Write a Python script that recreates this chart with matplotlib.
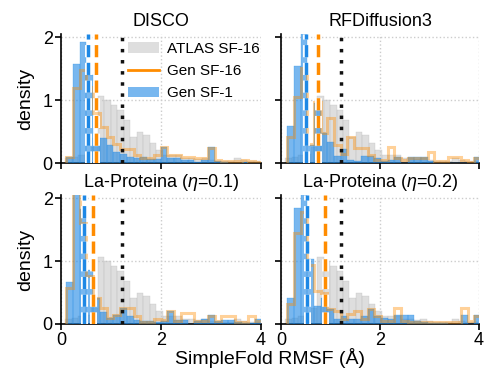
import matplotlib
matplotlib.use("Agg")
import matplotlib.pyplot as plt
import matplotlib.patheffects as pe
from matplotlib.patches import Patch
from matplotlib.lines import Line2D
import numpy as np

plt.rcParams['font.family'] = ['Liberation Sans', 'DejaVu Sans']
plt.rcParams['mathtext.fontset'] = 'custom'
plt.rcParams['mathtext.it'] = 'Liberation Sans:italic'
plt.rcParams['mathtext.rm'] = 'Liberation Sans'

titles = ["DISCO", "RFDiffusion3", "La-Proteina ($\\eta$=0.1)", "La-Proteina ($\\eta$=0.2)"]

# ATLAS reference histogram (same in every panel)
atlas_start = 0.083
atlas_width = 0.13
atlas = [0.08, 0.1, 0.12, 0.15, 0.25, 1.07, 1.0, 0.92, 0.85, 0.68,
         0.42, 0.5, 0.45, 0.32, 0.2, 0.13, 0.13, 0.12, 0.08, 0.08,
         0.06, 0.08, 0.05, 0.03, 0.03, 0.03, 0.08, 0.05, 0.03, 0.03]

gen_width = 0.135
gen_start = [0.1, 0.128, 0.1, 0.128]

sf1 = [
    [0.1, 1.58, 1.92, 1.4, 0.4, 0.4, 0.28, 0.18, 0.15, 0.1,
     0.08, 0.1, 0.06, 0.06, 0.25, 0.08, 0.08, 0.05, 0.05, 0.02,
     0.05, 0.25, 0.03, 0.02, 0.0, 0.0, 0.02, 0.0, 0.0],
    [0.59, 1.54, 2.1, 0.29, 0.96, 0.47, 0.34, 0.11, 0.23, 0.05,
     0.03, 0.11, 0.11, 0.08, 0.03, 0.05, 0.1, 0.0, 0.1, 0.1,
     0.1, 0.03, 0.0, 0.0, 0.0, 0.0, 0.0, 0.0, 0.1],
    [0.66, 2.2, 1.83, 0.86, 0.41, 0.19, 0.1, 0.15, 0.25, 0.13,
     0.06, 0.05, 0.05, 0.03, 0.05, 0.21, 0.06, 0.06, 0.0, 0.05,
     0.08, 0.15, 0.05, 0.07, 0.07, 0.03, 0.02, 0.02, 0.08],
    [0.41, 1.84, 2.1, 1.04, 0.29, 0.41, 0.24, 0.08, 0.13, 0.08,
     0.08, 0.13, 0.24, 0.13, 0.1, 0.08, 0.15, 0.15, 0.15, 0.05,
     0.03, 0.02, 0.02, 0.02, 0.0, 0.0, 0.15, 0.0, 0.15],
]

sf16 = [
    [0.1, 1.19, 1.48, 1.2, 0.8, 0.58, 0.41, 0.3, 0.23, 0.22,
     0.13, 0.08, 0.08, 0.12, 0.26, 0.13, 0.13, 0.1, 0.1, 0.08,
     0.08, 0.24, 0.05, 0.03, 0.03, 0.03, 0.05, 0.03, 0.02],
    [0.41, 1.05, 1.51, 0.3, 0.97, 0.47, 0.72, 0.28, 0.15, 0.41,
     0.24, 0.24, 0.12, 0.05, 0.04, 0.26, 0.08, 0.05, 0.08, 0.08,
     0.08, 0.17, 0.03, 0.03, 0.1, 0.1, 0.05, 0.02, 0.08],
    [0.57, 2.3, 1.6, 0.76, 0.42, 0.25, 0.1, 0.15, 0.25, 0.25,
     0.12, 0.03, 0.03, 0.08, 0.07, 0.2, 0.05, 0.17, 0.17, 0.05,
     0.05, 0.13, 0.05, 0.13, 0.13, 0.03, 0.03, 0.13, 0.05],
    [0.32, 1.44, 1.78, 0.94, 0.52, 0.5, 0.24, 0.2, 0.08, 0.16,
     0.2, 0.08, 0.24, 0.12, 0.05, 0.05, 0.26, 0.05, 0.03, 0.03,
     0.03, 0.03, 0.03, 0.03, 0.03, 0.03, 0.26, 0.05, 0.12],
]

# medians (vertical lines)
med_sf1 = [0.53, 0.5, 0.45, 0.52]
med_sf16 = [0.69, 0.75, 0.64, 0.89]
med_atlas = 1.22

blue = '#1e88e5'
orange = '#ff8c00'

fig = plt.figure(figsize=(4.89, 3.71), dpi=100)
W, H = 489, 371
boxes = [(61, 34, 200, 129), (281, 34, 198, 129), (61, 195, 200, 129), (281, 195, 198, 129)]
axes = []
for (x, y, w, h) in boxes:
    axes.append(fig.add_axes([x / W, 1 - (y + h) / H, w / W, h / H]))

for i, ax in enumerate(axes):
    a_edges = atlas_start + atlas_width * np.arange(len(atlas) + 1)
    ax.hist(a_edges[:-1], bins=a_edges, weights=atlas, color='#c8c8c8', alpha=0.6,
            edgecolor='#b4b4b4', linewidth=0.3, zorder=2)
    g_edges = gen_start[i] + gen_width * np.arange(len(sf1[i]) + 1)
    ax.hist(g_edges[:-1], bins=g_edges, weights=sf1[i], color=blue, alpha=0.6,
            edgecolor=blue, linewidth=0.3, zorder=3)
    ax.stairs(sf16[i], g_edges, color=orange, alpha=0.4, linewidth=2.2, zorder=4)

    ax.axvline(med_sf1[i], color=blue, ls=(0, (3.5, 1.6)), lw=2.5, zorder=6,
               path_effects=[pe.withStroke(linewidth=5, foreground='white')])
    ax.axvline(med_sf16[i], color=orange, ls=(0, (3.5, 1.6)), lw=2.5, zorder=6,
               path_effects=[pe.withStroke(linewidth=5, foreground='white')])
    ax.axvline(med_atlas, color='#111111', ls=(0, (1, 2.2)), lw=2.5, zorder=6)

    ax.set_xlim(0, 4)
    ax.set_ylim(0, 2.05)
    ax.set_xticks([0, 2, 4])
    ax.set_yticks([0, 1, 2])
    ax.grid(True, ls=':', color='#cccccc', lw=1)
    ax.set_axisbelow(True)
    for s in ['top', 'right']:
        ax.spines[s].set_visible(False)
    ax.spines['left'].set_linewidth(1.2)
    ax.spines['bottom'].set_linewidth(1.2)
    ax.tick_params(direction='out', length=4, width=1.2, labelsize=13, pad=2)
    ax.set_title(titles[i], fontsize=13, pad=6)
    if i < 2:
        ax.tick_params(labelbottom=False)
    if i % 2 == 1:
        ax.tick_params(labelleft=False)
    else:
        ax.set_ylabel('density', fontsize=14, labelpad=6)

handles = [Patch(facecolor='#c8c8c8', alpha=0.6, label='ATLAS SF-16'),
           Line2D([], [], color=orange, lw=2, label='Gen SF-16'),
           Patch(facecolor=blue, alpha=0.6, label='Gen SF-1')]
axes[0].legend(handles=handles, loc='upper right', frameon=False, fontsize=11,
               handlelength=2.0, handletextpad=0.5, labelspacing=0.55,
               borderaxespad=0.1, bbox_to_anchor=(1.03, 1.0))

fig.text(270 / W, 1 - 358 / H, 'SimpleFold RMSF (Å)', ha='center', va='center', fontsize=14)

fig.savefig('out.png', dpi=100)
